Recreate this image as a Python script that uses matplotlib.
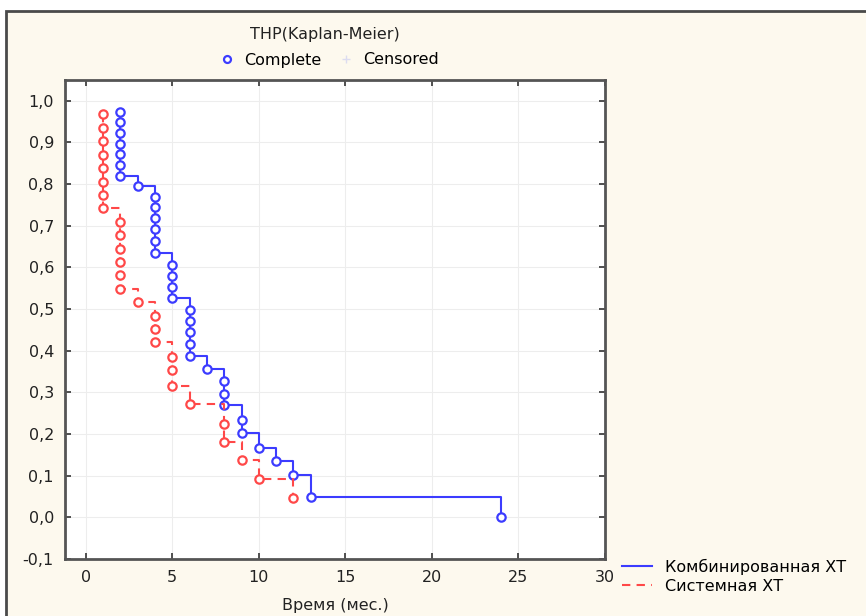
import matplotlib
matplotlib.use("Agg")
import matplotlib.pyplot as plt
from matplotlib.lines import Line2D
from matplotlib.patches import Rectangle

plt.rcParams['font.family'] = ['DejaVu Sans']

# Kaplan-Meier estimates: time (months) and survival at each complete event
comb_time = [2, 2, 2, 2, 2, 2, 2, 3, 4, 4, 4, 4, 4, 4, 5, 5, 5, 5,
             6, 6, 6, 6, 6, 7, 8, 8, 8, 9, 9, 10, 11, 12, 13, 24]
comb_surv = [0.974, 0.949, 0.923, 0.897, 0.872, 0.846, 0.820, 0.795,
             0.769, 0.744, 0.718, 0.692, 0.664, 0.635,
             0.606, 0.580, 0.554, 0.526,
             0.499, 0.472, 0.444, 0.415, 0.388, 0.357,
             0.328, 0.297, 0.269, 0.233, 0.203, 0.167, 0.135, 0.101, 0.050, 0.0]

syst_time = [1, 1, 1, 1, 1, 1, 1, 1, 2, 2, 2, 2, 2, 2, 3, 4, 4, 4,
             5, 5, 5, 6, 8, 8, 9, 10, 12]
syst_surv = [0.968, 0.935, 0.903, 0.871, 0.839, 0.806, 0.774, 0.742,
             0.710, 0.677, 0.645, 0.613, 0.581, 0.548, 0.516,
             0.484, 0.451, 0.420, 0.384, 0.353, 0.316, 0.272,
             0.224, 0.180, 0.137, 0.091, 0.047]

x_ticks = [0, 5, 10, 15, 20, 25, 30]
y_ticks = [-0.1, 0.0, 0.1, 0.2, 0.3, 0.4, 0.5, 0.6, 0.7, 0.8, 0.9, 1.0]

blue = '#3c3cff'
red = '#ff4848'
fs = 11.5

fig = plt.figure(figsize=(8.66, 6.16), dpi=100)
fig.patch.set_facecolor('white')
# cream panel with a dark border on top and left
fig.patches.append(Rectangle((6 / 866, -0.1), 1.2, (616 - 11) / 616 + 0.1,
                             transform=fig.transFigure, facecolor='#fdf9ee',
                             edgecolor='#4a4a4a', linewidth=2, zorder=-10))

ax = fig.add_axes([65 / 866, 57 / 616, 540 / 866, 479 / 616])
ax.set_facecolor('white')

ax.step(comb_time, comb_surv, where='post', color=blue, lw=1.5)
ax.plot(comb_time, comb_surv, 'o', ms=6, mfc='white', mec=blue, mew=1.6)
ax.step(syst_time, syst_surv, where='post', color=red, lw=1.5,
        linestyle=(0, (4, 3)))
ax.plot(syst_time, syst_surv, 'o', ms=6, mfc='white', mec=red, mew=1.6)

ax.set_xlim(-1.2, 30)
ax.set_ylim(-0.1, 1.05)
ax.set_xticks(x_ticks)
ax.set_yticks(y_ticks)
ax.set_yticklabels([f'{v:.1f}'.replace('.', ',') for v in y_ticks])
ax.grid(True, color='#ededed', lw=0.8)
ax.set_axisbelow(True)
ax.tick_params(direction='in', length=4, width=1.2, top=True, right=True,
               labelsize=fs, colors='#333333', labelcolor='#222222', pad=8)
for s in ax.spines.values():
    s.set_color('#555555')
    s.set_linewidth(2)

ax.set_xlabel('Время (мес.)', fontsize=fs, color='#222222', labelpad=9)

# marker legend above the plot
fig.text(325 / 866, 1 - 35 / 616, 'THP(Kaplan-Meier)', fontsize=fs,
         color='#222222', ha='center', va='center')
top_handles = [Line2D([], [], marker='o', ls='none', ms=5, mfc='white',
                      mec=blue, mew=1.6),
               Line2D([], [], marker='+', ls='none', ms=6, color='#dcdcf0')]
fig.legend(top_handles, ['Complete', 'Censored'], ncol=2,
           loc='center', bbox_to_anchor=(328 / 866, 1 - 60 / 616),
           frameon=False, fontsize=fs, handlelength=1.2,
           columnspacing=0.9, handletextpad=0.5, borderpad=0.1)

# line legend in the lower right
line_handles = [Line2D([], [], color=blue, lw=1.5),
                Line2D([], [], color=red, lw=1.5, linestyle=(0, (4, 3)))]
fig.legend(line_handles, ['Комбинированная ХТ', 'Системная ХТ'],
           loc='upper left', bbox_to_anchor=(612 / 866, 1 - 549 / 616),
           frameon=False, fontsize=fs, handlelength=1.9,
           handletextpad=0.8, labelspacing=0.25, borderpad=0.1)

fig.savefig('out.png', dpi=100)
